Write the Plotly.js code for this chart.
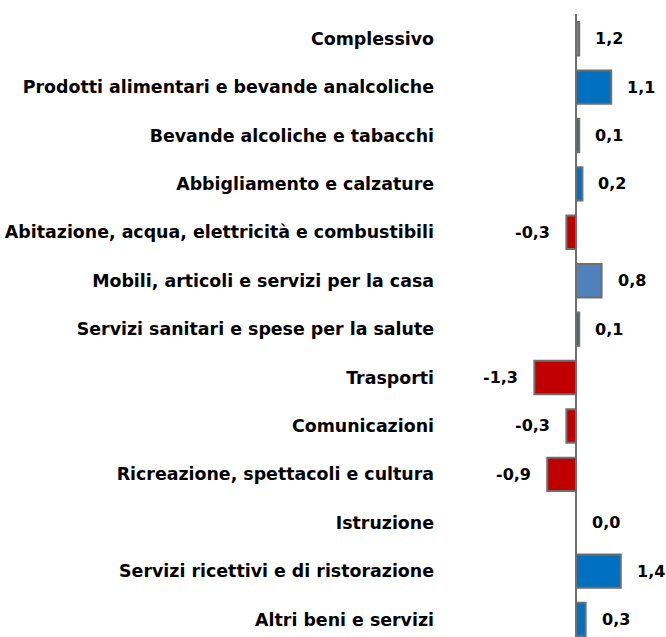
<!DOCTYPE html>
<html><head><meta charset="utf-8">
<script src="https://cdn.plot.ly/plotly-3.0.1.min.js"></script>
<style>html,body{margin:0;padding:0;background:#fff}#chart{width:666px;height:637px}</style>
</head><body><div id="chart"></div>
<script>
const categories = [
  "Complessivo",
  "Prodotti alimentari e bevande analcoliche",
  "Bevande alcoliche e tabacchi",
  "Abbigliamento e calzature",
  "Abitazione, acqua, elettricità e combustibili",
  "Mobili, articoli e servizi per la casa",
  "Servizi sanitari e spese per la salute",
  "Trasporti",
  "Comunicazioni",
  "Ricreazione, spettacoli e cultura",
  "Istruzione",
  "Servizi ricettivi e di ristorazione",
  "Altri beni e servizi"
];
const barValues = [0.1, 1.1, 0.1, 0.2, -0.3, 0.8, 0.1, -1.3, -0.3, -0.9, 0.0, 1.4, 0.3];
const valueLabels = ["1,2", "1,1", "0,1", "0,2", "-0,3", "0,8", "0,1", "-1,3", "-0,3", "-0,9", "0,0", "1,4", "0,3"];
const barColors = ["#7f7f7f", "#0070C0", "#0070C0", "#0070C0", "#C00000", "#4F81BD", "#0070C0",
                   "#C00000", "#C00000", "#C00000", "#0070C0", "#0070C0", "#0070C0"];

const labelFont = {family: "DejaVu Sans", size: 17.4, color: "#000"};
const valFont = {family: "DejaVu Sans", size: 16, color: "#000"};

const annotations = categories.map((c, i) => ({
  x: barValues[i], y: c, xref: "x", yref: "y",
  text: "<b>" + valueLabels[i] + "</b>",
  showarrow: false,
  xanchor: barValues[i] < 0 ? "right" : "left",
  xshift: barValues[i] < 0 ? -14 : 14,
  font: valFont
}));

const trace = {
  type: "bar", orientation: "h",
  x: barValues, y: categories,
  marker: {color: barColors, line: {color: "#6e6e6e", width: 2}},
  width: 0.69,
  hoverinfo: "none"
};

const layout = {
  width: 666, height: 637,
  margin: {l: 440, r: 0, t: 14, b: 0, pad: 0},
  paper_bgcolor: "#fff", plot_bgcolor: "#fff",
  showlegend: false,
  xaxis: {range: [-4.25, 2.8125], showgrid: false, showticklabels: false, ticks: "",
          zeroline: true, zerolinecolor: "#6e6e6e", zerolinewidth: 1.5, showline: false, fixedrange: true},
  yaxis: {type: "category", range: [12.36, -0.51], showgrid: false, zeroline: false, showline: false,
          ticks: "", ticklabelstandoff: 5,
          tickfont: labelFont, fixedrange: true,
          tickvals: categories, ticktext: categories.map(c => "<b>" + c + "</b>")},
  annotations: annotations
};
Plotly.newPlot("chart", [trace], layout, {displayModeBar: false, staticPlot: true});
</script></body></html>
